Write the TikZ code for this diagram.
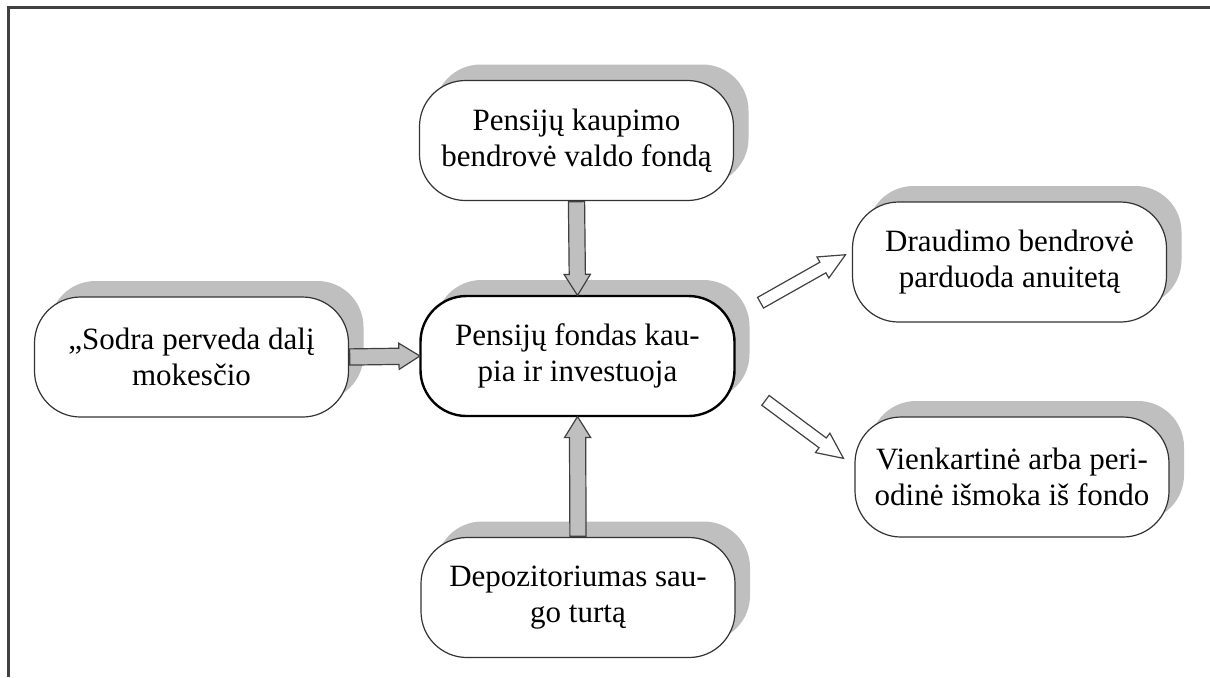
\documentclass[tikz,border=0pt]{standalone}
\usepackage{fontspec}
\setmainfont{Liberation Serif}
\usetikzlibrary{calc,shadows,shapes.arrows}

\tikzset{
  blokas/.style={draw=black!80, line width=0.6pt, fill=white, rectangle, rounded corners=23pt,
    minimum width=157pt, minimum height=60pt, align=center, inner sep=0pt,
    font=\fontsize{15.5}{18}\selectfont,
    drop shadow={shadow xshift=7.5pt, shadow yshift=8pt, fill=black!25, opacity=1}},
  rodykle/.style={single arrow, draw=black!75, fill=black!25, line width=0.6pt,
    inner xsep=0pt, inner ysep=3.75pt, minimum width=0pt, anchor=tail,
    single arrow head extend=2.5pt, single arrow tip angle=64},
  baltarodykle/.style={rodykle, fill=white, inner ysep=2.75pt,
    single arrow head extend=3pt, single arrow tip angle=50}
}

\newcommand{\blokrodykle}[3][rodykle]{%
  \path let \p1=(#2), \p2=(#3), \n1={atan2(\y2-\y1,\x2-\x1)},
    \n2={veclen(\x2-\x1,\y2-\y1)} in
    node[#1, minimum height=\n2, rotate=\n1] at (\p1) {};}

\begin{document}
\begin{tikzpicture}[x=0.5pt,y=-0.5pt]
    \useasboundingbox (0,0) rectangle (1210,677);
    \draw[line width=1.5pt, black!75] (1210,7) -- (8,7) -- (8,677);
    \node[blokas] (T) at (576.5,140.5) {Pensijų kaupimo\\bendrovė valdo fondą};
    \node[blokas, line width=1.2pt, draw=black] (C) at (577.5,356) {Pensijų fondas kau-\\pia ir investuoja};
    \node[blokas] (L) at (191.5,357) {„Sodra perveda dalį\\mokesčio};
    \node[blokas] (B) at (578,597.5) {Depozitoriumas sau-\\go turtą};
    \node[blokas] (R1) at (1009.5,262) {Draudimo bendrovė\\parduoda anuitetą};
    \node[blokas] (R2) at (1012,477) {Vienkartinė arba peri-\\odinė išmoka iš fondo};
    \coordinate (a1) at (760,303);
    \coordinate (a2) at (845,255);
    \coordinate (b1) at (765,400);
    \coordinate (b2) at (843,458);
    \blokrodykle{T.south}{C.north}
    \blokrodykle{B.north}{C.south}
    \blokrodykle{L.east}{C.west}
    \blokrodykle[baltarodykle]{a1}{a2}
    \blokrodykle[baltarodykle]{b1}{b2}
  \end{tikzpicture}
\end{document}
